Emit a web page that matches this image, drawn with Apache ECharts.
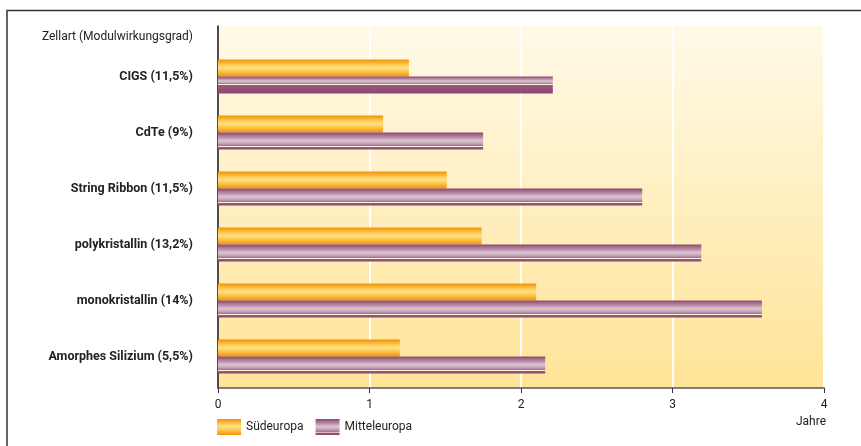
<!DOCTYPE html>
<html>
<head>
<meta charset="utf-8">
<script src="https://cdn.jsdelivr.net/npm/echarts@6/dist/echarts.min.js"></script>
<style>
  html, body { margin: 0; padding: 0; background: #fff; }
  #chart { width: 861px; height: 446px; }
</style>
</head>
<body>
<div id="chart"></div>
<script>
const categories = [
    'CIGS (11,5%)',
    'CdTe (9%)',
    'String Ribbon (11,5%)',
    'polykristallin (13,2%)',
    'monokristallin (14%)',
    'Amorphes Silizium (5,5%)',
]
const suedeuropa = [1.26, 1.09, 1.51, 1.74, 2.1, 1.2]
const mitteleuropa = [2.21, 1.75, 2.8, 3.19, 3.59, 2.16]
const xTicks = [0, 1, 2, 3, 4]

const fontFamily = '"Liberation Sans Narrow", "Roboto", sans-serif'

const orangeFill = new echarts.graphic.LinearGradient(0, 0, 0, 1, [
    { offset: 0, color: '#f39200' },
    { offset: 0.2, color: '#f9b63a' },
    { offset: 0.45, color: '#ffe07e' },
    { offset: 0.6, color: '#fdd466' },
    { offset: 0.85, color: '#f7ab2a' },
    { offset: 1, color: '#f39200' },
])

function purpleFill(line) {
    return new echarts.graphic.LinearGradient(0, 0, 0, 1, [
        { offset: 0, color: '#8c466f' },
        { offset: line * 0.25, color: '#ad7998' },
        { offset: line * 0.6, color: '#dcc5d3' },
        { offset: line * 0.85, color: '#c09cb2' },
        { offset: line - 0.02, color: '#a46a8c' },
        { offset: line - 0.01, color: '#fff4dc' },
        { offset: line + 0.04, color: '#fff4dc' },
        { offset: line + 0.05, color: '#9a5880' },
        { offset: 1, color: '#8c466f' },
    ])
}

const chart = echarts.init(document.getElementById('chart'))
chart.setOption({
    animation: false,
    textStyle: { fontFamily: fontFamily },
    title: [
        {
            text: 'Zellart (Modulwirkungsgrad)',
            right: 668,
            top: 31,
            padding: 0,
            textStyle: { fontSize: 12, fontWeight: 'normal', color: '#222', fontFamily: fontFamily },
        },
        {
            text: 'Jahre',
            right: 35,
            top: 416,
            padding: 0,
            textStyle: { fontSize: 12, fontWeight: 'normal', color: '#222', fontFamily: fontFamily },
        },
    ],
    graphic: [
        {
            type: 'polyline',
            shape: { points: [[7, 446], [7, 10.5], [861, 10.5]] },
            style: { stroke: '#333', lineWidth: 1.5, fill: null },
        },
    ],
    legend: {
        left: 217,
        top: 419,
        padding: 0,
        itemWidth: 24,
        itemHeight: 16,
        itemGap: 12,
        icon: 'rect',
        textStyle: { fontSize: 12, color: '#222', fontFamily: fontFamily },
        data: ['Südeuropa', 'Mitteleuropa'],
    },
    grid: [
        {
            left: 218,
            right: 37,
            top: 26,
            bottom: 58,
            show: true,
            borderWidth: 0,
            backgroundColor: new echarts.graphic.LinearGradient(0, 0, 0, 1, [
                { offset: 0, color: '#fffae8' },
                { offset: 1, color: '#ffe497' },
            ]),
        },
        {
            left: 218,
            right: 37,
            top: 48.5,
            height: 336,
        },
    ],
    xAxis: [
        {
            gridIndex: 0,
            type: 'value',
            min: xTicks[0],
            max: xTicks[xTicks.length - 1],
            interval: 1,
            axisLine: { show: true, lineStyle: { color: '#555', width: 1.5 } },
            axisTick: { show: true, length: 5, lineStyle: { color: '#333' } },
            axisLabel: { fontSize: 12, color: '#222', margin: 11 },
            splitLine: { show: true, lineStyle: { color: '#fff', width: 2 } },
        },
        {
            gridIndex: 1,
            type: 'value',
            min: xTicks[0],
            max: xTicks[xTicks.length - 1],
            show: false,
        },
    ],
    yAxis: [
        {
            gridIndex: 0,
            type: 'value',
            min: 0,
            max: 1,
            axisLine: { show: true, lineStyle: { color: '#111', width: 1.5 } },
            axisTick: { show: false },
            axisLabel: { show: false },
            splitLine: { show: false },
        },
        {
            gridIndex: 1,
            type: 'category',
            inverse: true,
            data: categories,
            axisLine: { show: false },
            axisTick: { show: false },
            axisLabel: {
                margin: 25,
                fontSize: 12.5,
                fontWeight: 'bold',
                color: '#222',
                fontFamily: fontFamily,
            },
        },
    ],
    series: [
        {
            name: 'Südeuropa',
            type: 'bar',
            xAxisIndex: 1,
            yAxisIndex: 1,
            barWidth: 17,
            barGap: '0%',
            itemStyle: { color: orangeFill },
            data: suedeuropa,
        },
        {
            name: 'Mitteleuropa',
            type: 'bar',
            xAxisIndex: 1,
            yAxisIndex: 1,
            barWidth: 17,
            barGap: '0%',
            itemStyle: { color: purpleFill(0.8) },
            data: mitteleuropa.map((v, i) =>
                i === 0 ? { value: v, itemStyle: { color: purpleFill(0.45) } } : v
            ),
        },
    ],
})
</script>
</body>
</html>
